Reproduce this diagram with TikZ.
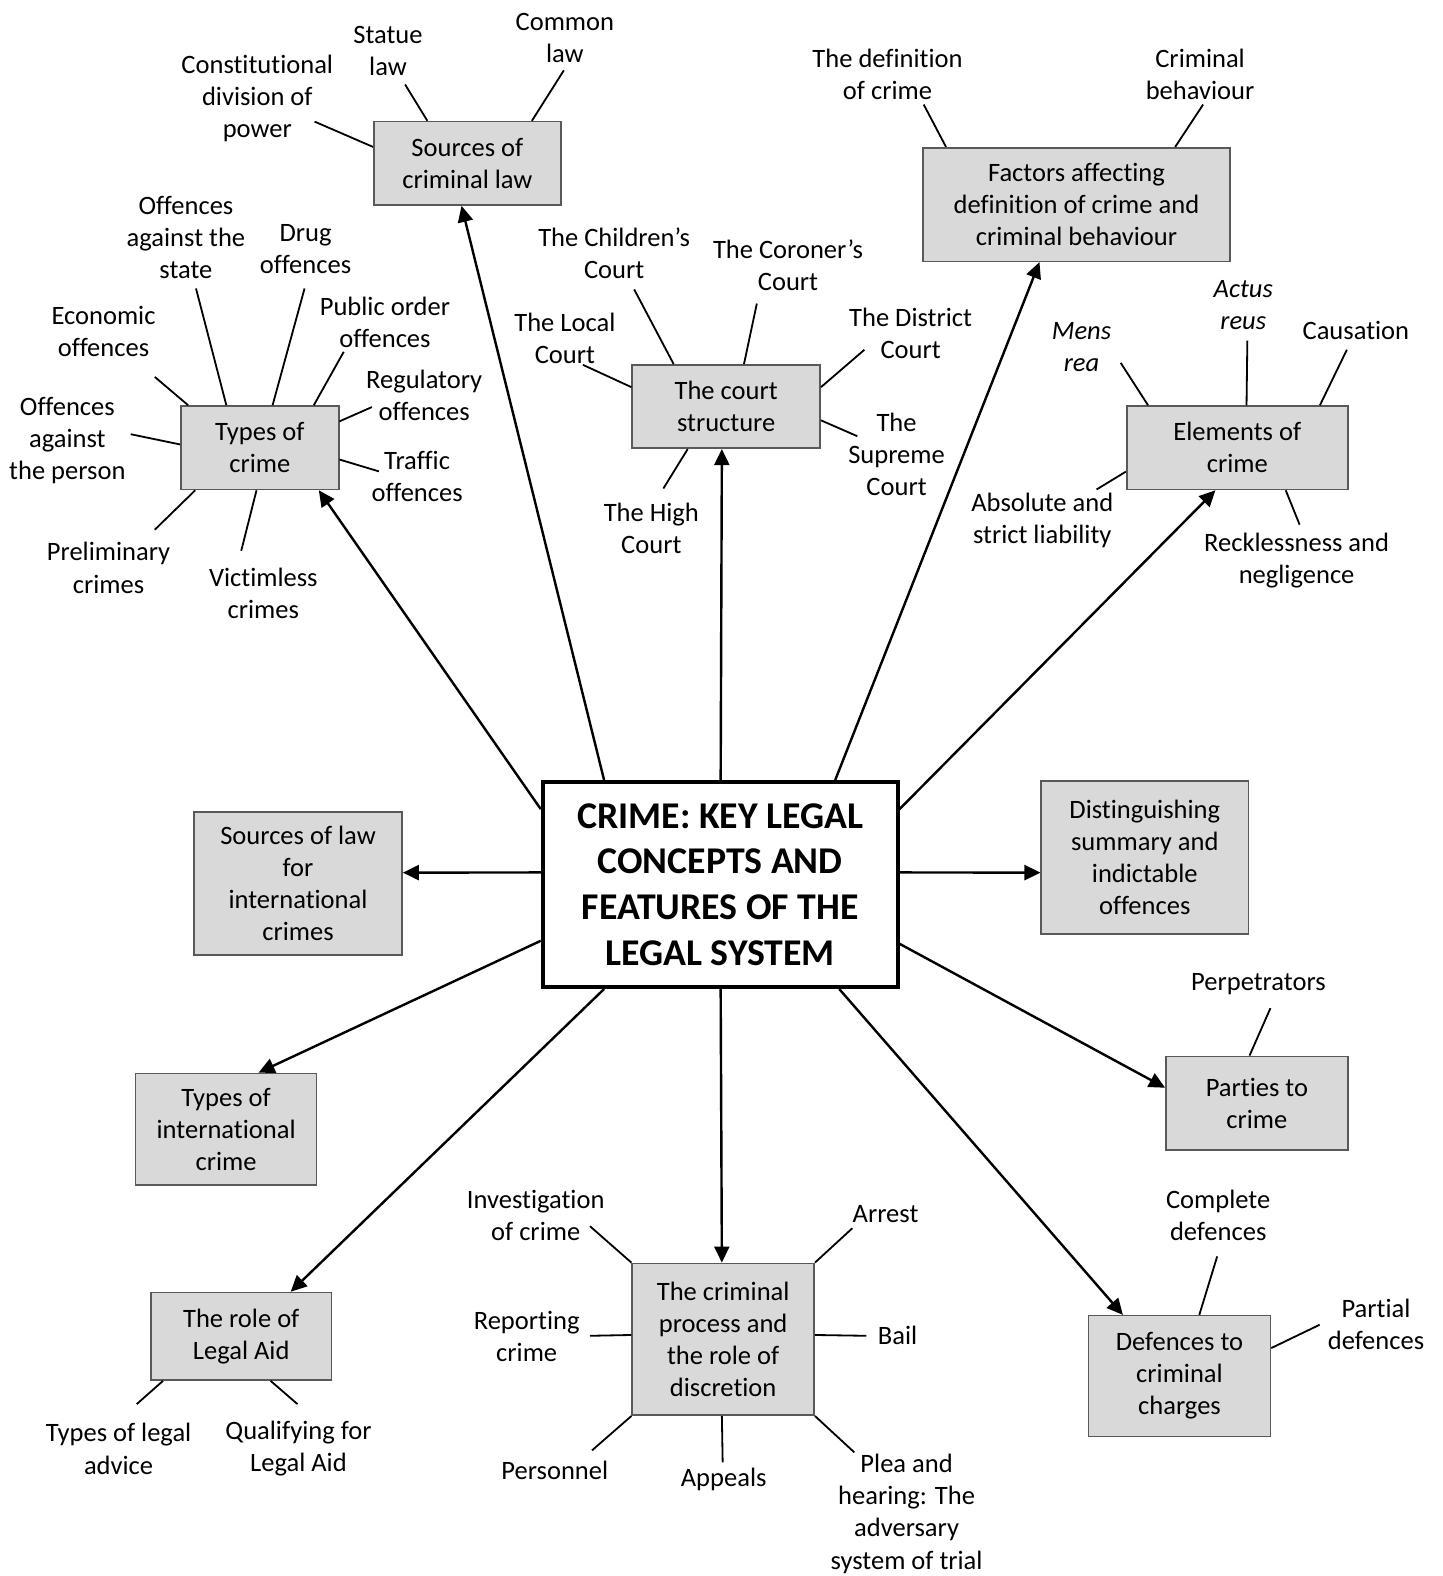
\documentclass[tikz,border=0pt]{standalone}
\usepackage{fontspec}
\setmainfont{Carlito}[Ligatures={NoCommon,NoContextual}]
\usetikzlibrary{arrows.meta,calc}
\definecolor{boxgray}{HTML}{D9D9D9}
\definecolor{edgegray}{HTML}{595959}
\newcommand\lblfont{\fontsize{26.4}{32}\selectfont}
\newcommand\hubfont{\fontsize{37.6}{45.3}\selectfont\bfseries}
\begin{document}
\begin{tikzpicture}[x=1pt,y=-1pt,
  box/.style={draw=edgegray, line width=1.6pt, fill=boxgray, align=center, inner sep=0pt, font=\lblfont},
  hub/.style={draw=black, line width=4pt, fill=white, align=center, inner sep=0pt, font=\hubfont},
  lbl/.style={align=center, inner sep=0pt, font=\lblfont},
  ilbl/.style={lbl, font=\lblfont\itshape},
  spoke/.style={draw=black, line width=1.8pt},
  link/.style={draw=black, line width=2.4pt, -{Triangle[length=16pt,width=15pt]}}]

\useasboundingbox[fill=white] (0,0) rectangle (1435,1568);

% central topic
\node[hub, minimum width=353pt, minimum height=204pt] (hub) at (716.5,880)
  {CRIME: KEY LEGAL\\CONCEPTS AND\\FEATURES OF THE\\LEGAL SYSTEM};

% sub-topics
\node[box, minimum width=186pt, minimum height=83pt] (src) at (465,162.5) {Sources of\\criminal law};
\node[box, minimum width=306pt, minimum height=113pt] (fac) at (1071,203.5) {Factors affecting\\definition of crime and\\criminal behaviour};
\node[box, minimum width=187pt, minimum height=83pt] (crt) at (722.5,404.5) {The court\\structure};
\node[box, minimum width=157pt, minimum height=83pt] (toc) at (258.5,445.5) {Types of\\crime};
\node[box, minimum width=220pt, minimum height=83pt] (elm) at (1231,445.5) {Elements of\\crime};
\node[box, minimum width=206pt, minimum height=152pt] (dst) at (1139,853) {Distinguishing\\summary and\\indictable\\offences};
\node[box, minimum width=207pt, minimum height=142pt] (sli) at (296.5,879) {Sources of law\\for\\international\\crimes};
\node[box, minimum width=180pt, minimum height=111pt] (tic) at (225,1123.5) {Types of\\international\\crime};
\node[box, minimum width=181pt, minimum height=93pt] (par) at (1250.5,1097.5) {Parties to\\crime};
\node[box, minimum width=181pt, minimum height=120pt] (def) at (1173.5,1369) {Defences to\\criminal\\charges};
\node[box, minimum width=180pt, minimum height=87pt] (aid) at (240,1329.5) {The role of\\Legal Aid};
\node[box, minimum width=181pt, minimum height=151pt] (cpr) at (719.5,1332.5) {The criminal\\process and\\the role of\\discretion};

% arrows from the central topic
\draw[link] ($(hub.north west)+(63,0)$) -- ($(src.south west)+(88,0)$);
\draw[link] ($(hub.north west)+(0,29)$) -- ($(toc.south west)+(138,0)$);
\draw[link] ($(hub.north west)+(179,0)$) -- ($(crt.south west)+(90,0)$);
\draw[link] ($(hub.north west)+(293,0)$) -- ($(fac.south west)+(117,0)$);
\draw[link] ($(hub.north east)+(0,29)$) -- ($(elm.south west)+(89,0)$);
\draw[link] ($(hub.north east)+(0,92)$) -- ($(dst.north west)+(0,92)$);
\draw[link] ($(hub.north west)+(0,92)$) -- ($(sli.north east)+(0,61)$);
\draw[link] ($(hub.north west)+(0,160)$) -- ($(tic.north west)+(123,0)$);
\draw[link] ($(hub.north east)+(0,163)$) -- ($(par.north west)+(0,32)$);
\draw[link] ($(hub.south east)+(-60,0)$) -- ($(def.north west)+(35,0)$);
\draw[link] ($(hub.south west)+(63,0)$) -- ($(aid.north west)+(140,0)$);
\draw[link] ($(hub.south west)+(179,0)$) -- ($(cpr.north west)+(90,0)$);

% Sources of criminal law
\node[lbl] (statue) at (386,50.5) {Statue\\law};
\node[lbl] (common) at (562,37.5) {Common\\law};
\node[lbl] (consti) at (256,98) {Constitutional\\division of\\power};
\coordinate (statue-e) at (403,84);
\coordinate (common-e) at (561,70);
\coordinate (consti-e) at (313,121);
\draw[spoke] (statue-e) -- ($(src.north west)+(54,0)$);
\draw[spoke] (common-e) -- ($(src.north west)+(158,0)$);
\draw[spoke] (consti-e) -- ($(src.north west)+(0,26)$);

% Factors affecting definition
\node[lbl] (defin) at (883,74) {The definition\\of crime};
\node[lbl] (behav) at (1194,74) {Criminal\\behaviour};
\coordinate (defin-e) at (919,104);
\coordinate (behav-e) at (1197,104);
\draw[spoke] (defin-e) -- ($(fac.north west)+(24,0)$);
\draw[spoke] (behav-e) -- ($(fac.north west)+(252,0)$);

% Court structure
\node[lbl] (child) at (611,252) {The Children’s\\Court};
\node[lbl] (coron) at (784,264) {The Coroner’s\\Court};
\node[lbl] (local) at (562,337) {The Local\\Court};
\node[lbl] (distr) at (906,331.5) {The District\\Court};
\node[lbl] (supre) at (892,452) {The\\Supreme\\Court};
\node[lbl] (high) at (648,525.5) {The High\\Court};
\coordinate (child-e) at (631,288);
\coordinate (coron-e) at (753,302);
\coordinate (local-e) at (580,363);
\coordinate (distr-e) at (860,348);
\coordinate (supre-e) at (853,434);
\coordinate (high-e) at (660,486);
\draw[spoke] (child-e) -- ($(crt.north west)+(42,0)$);
\draw[spoke] (coron-e) -- ($(crt.north west)+(112,0)$);
\draw[spoke] (local-e) -- ($(crt.north west)+(0,23)$);
\draw[spoke] (distr-e) -- ($(crt.north east)+(0,23)$);
\draw[spoke] (supre-e) -- ($(crt.north east)+(0,56)$);
\draw[spoke] (high-e) -- ($(crt.south west)+(56,0)$);

% Types of crime
\node[lbl] (state) at (185,236) {Offences\\against the\\state};
\node[lbl] (drug) at (304,247.5) {Drug\\offences};
\node[lbl] (econ) at (103,330) {Economic\\offences};
\node[lbl] (publ) at (383,320.5) {Public order\\offences};
\node[lbl] (regu) at (422,393) {Regulatory\\offences};
\node[lbl] (pers) at (67,438.5) {Offences\\against\\the person};
\node[lbl] (traf) at (415,474) {Traffic\\offences};
\node[lbl] (prel) at (108,565) {Preliminary\\crimes};
\node[lbl] (vict) at (262,590) {Victimless\\crimes};
\coordinate (state-e) at (195,287);
\coordinate (drug-e) at (303,287);
\coordinate (econ-e) at (154,375);
\coordinate (publ-e) at (342,350);
\coordinate (regu-e) at (370,405);
\coordinate (pers-e) at (130,432);
\coordinate (traf-e) at (377,469);
\coordinate (prel-e) at (154,527);
\coordinate (vict-e) at (240,548);
\draw[spoke] (state-e) -- ($(toc.north west)+(46,0)$);
\draw[spoke] (drug-e) -- ($(toc.north west)+(92,0)$);
\draw[spoke] (econ-e) -- ($(toc.north west)+(8,0)$);
\draw[spoke] (publ-e) -- ($(toc.north west)+(133,0)$);
\draw[spoke] (regu-e) -- ($(toc.north east)+(0,16)$);
\draw[spoke] (pers-e) -- ($(toc.north west)+(0,39)$);
\draw[spoke] (traf-e) -- ($(toc.north east)+(0,54)$);
\draw[spoke] (prel-e) -- ($(toc.south west)+(15,0)$);
\draw[spoke] (vict-e) -- ($(toc.south west)+(76,0)$);

% Elements of crime
\node[ilbl] (mens) at (1076,345.5) {Mens\\rea};
\node[ilbl] (actus) at (1237,303.5) {Actus\\reus};
\node[lbl] (caus) at (1349,329) {Causation};
\node[lbl] (abso) at (1037,517.5) {Absolute and\\strict liability};
\node[lbl] (reck) at (1290,557.5) {Recklessness and\\negligence};
\coordinate (mens-e) at (1115,361);
\coordinate (actus-e) at (1241,339);
\coordinate (caus-e) at (1340,348);
\coordinate (abso-e) at (1091,487);
\coordinate (reck-e) at (1293,522);
\draw[spoke] (mens-e) -- ($(elm.north west)+(22,0)$);
\draw[spoke] (actus-e) -- ($(elm.north west)+(120,0)$);
\draw[spoke] (caus-e) -- ($(elm.north west)+(193,0)$);
\draw[spoke] (abso-e) -- ($(elm.north west)+(0,66)$);
\draw[spoke] (reck-e) -- ($(elm.south west)+(159,0)$);

% Parties to crime
\node[lbl] (perp) at (1252,979) {Perpetrators};
\coordinate (perp-e) at (1264,1003);
\draw[spoke] (perp-e) -- ($(par.north west)+(84,0)$);

% Defences
\node[lbl] (compl) at (1212,1209) {Complete\\defences};
\node[lbl] (parti) at (1369,1317.5) {Partial\\defences};
\coordinate (compl-e) at (1211,1250);
\coordinate (parti-e) at (1313,1318);
\draw[spoke] (compl-e) -- ($(def.north west)+(111,0)$);
\draw[spoke] (parti-e) -- ($(def.north east)+(0,33)$);

% Legal Aid
\node[lbl] (advice) at (118,1441.5) {Types of legal\\advice};
\node[lbl] (qual) at (297,1441.5) {Qualifying for\\Legal Aid};
\coordinate (advice-e) at (136,1397);
\coordinate (qual-e) at (296,1397);
\draw[spoke] (advice-e) -- ($(aid.south west)+(13,0)$);
\draw[spoke] (qual-e) -- ($(aid.south west)+(120,0)$);

% Criminal process
\node[lbl] (invest) at (533,1209) {Investigation\\of crime};
\node[lbl] (arrest) at (881,1208) {Arrest};
\node[lbl] (report) at (524,1330) {Reporting\\crime};
\node[lbl] (bail) at (893,1329) {Bail};
\node[lbl] (person) at (552,1463) {Personnel};
\node[lbl] (appeal) at (720,1472) {Appeals};
\node[lbl] (plea) at (902,1506) {Plea and\\hearing: The\\adversary\\system of trial};
\coordinate (invest-e) at (587,1220);
\coordinate (arrest-e) at (848,1222);
\coordinate (report-e) at (587,1329);
\coordinate (bail-e) at (862,1329);
\coordinate (person-e) at (589,1443);
\coordinate (appeal-e) at (719,1455);
\coordinate (plea-e) at (850,1445);
\draw[spoke] (invest-e) -- (cpr.north west);
\draw[spoke] (arrest-e) -- (cpr.north east);
\draw[spoke] (report-e) -- ($(cpr.north west)+(0,72)$);
\draw[spoke] (bail-e) -- ($(cpr.north east)+(0,72)$);
\draw[spoke] (person-e) -- (cpr.south west);
\draw[spoke] (appeal-e) -- ($(cpr.south west)+(90,0)$);
\draw[spoke] (plea-e) -- (cpr.south east);

\end{tikzpicture}
\end{document}
